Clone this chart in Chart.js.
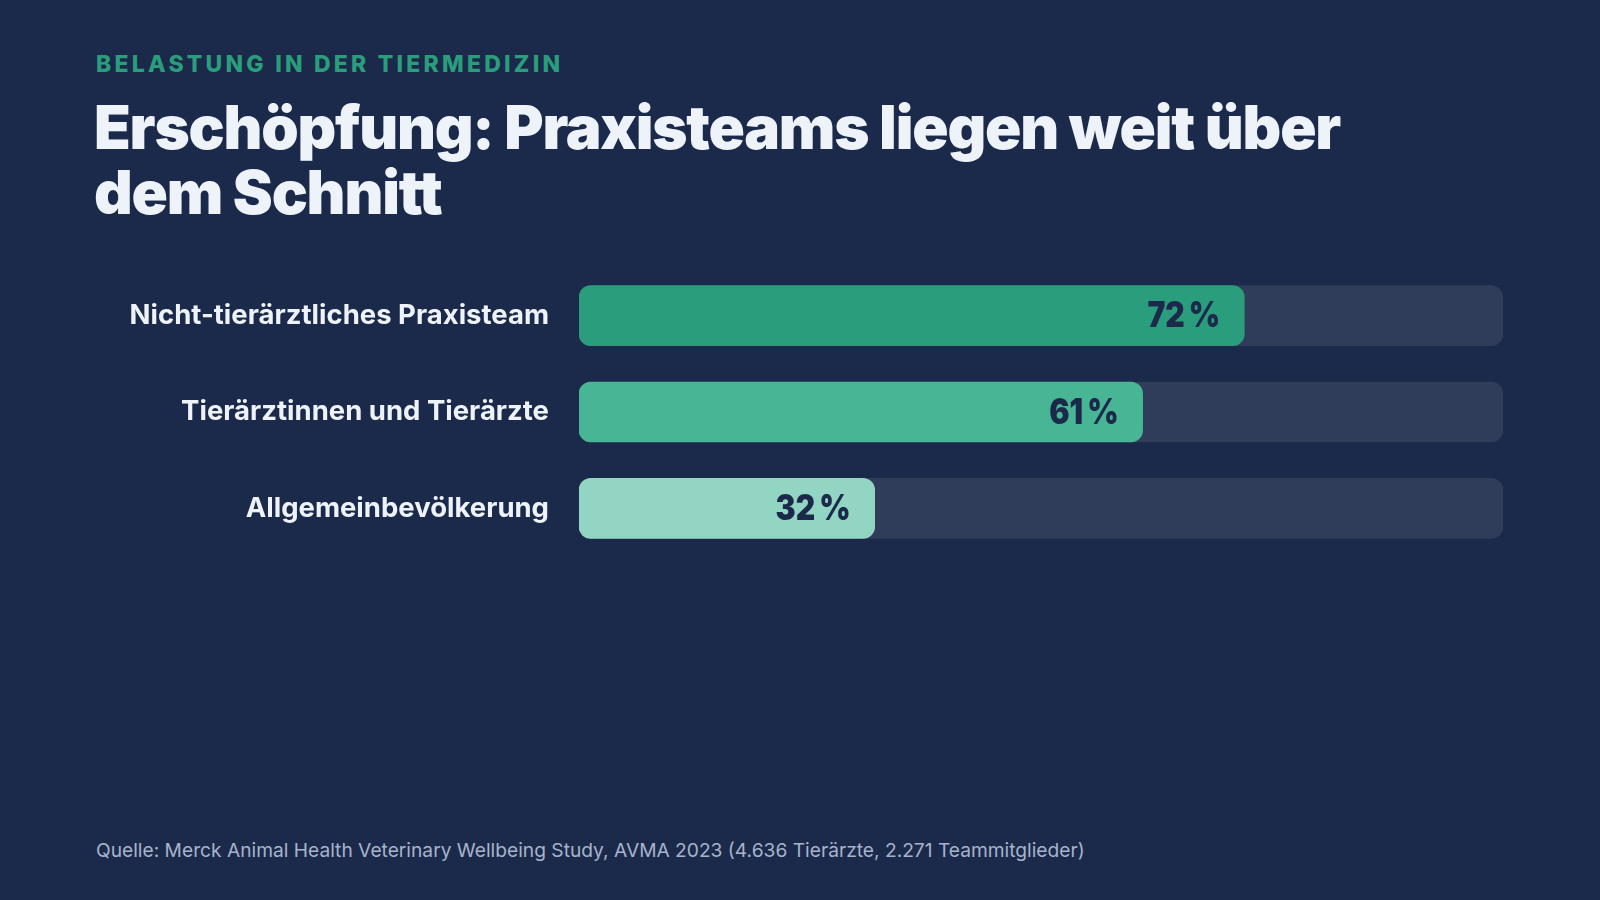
<!DOCTYPE html>
<html lang="de">
<head>
<meta charset="utf-8">
<title>Erschöpfung in der Tiermedizin</title>
<script src="https://cdn.jsdelivr.net/npm/chart.js@4.4.1/dist/chart.umd.min.js"></script>
<style>
  html, body {
    margin: 0;
    padding: 0;
    width: 1600px;
    height: 900px;
    background: #1b2a4a;
    overflow: hidden;
    font-family: Inter, "Noto Sans", sans-serif;
  }
  .kicker {
    position: absolute;
    left: 96px;
    top: 50px;
    margin: 0;
    font-size: 23px;
    font-weight: 800;
    letter-spacing: 0.14em;
    color: #2a9d7c;
    line-height: 28px;
  }
  .title {
    position: absolute;
    left: 94px;
    top: 95px;
    margin: 0;
    font-size: 60px;
    font-weight: 900;
    letter-spacing: -0.02em;
    line-height: 65px;
    color: #eef3fa;
  }
  /* the y-axis adds tick padding + half a label above and below the plot,
     so the canvas is taller than the plot area and shifted up to match */
  #burnout-chart {
    position: absolute;
    left: 0;
    top: 221px;
  }
  .source {
    position: absolute;
    left: 96px;
    top: 838px;
    margin: 0;
    font-size: 19.2px;
    color: #a7b3cc;
  }
</style>
</head>
<body>
<p class="kicker">BELASTUNG IN DER TIERMEDIZIN</p>
<h1 class="title">Erschöpfung: Praxisteams liegen weit über<br>dem Schnitt</h1>
<canvas id="burnout-chart" width="1600" height="382"></canvas>
<p class="source">Quelle: Merck Animal Health Veterinary Wellbeing Study, AVMA 2023 (4.636 Tierärzte, 2.271 Teammitglieder)</p>

<script>
  // Daten
  var groups = ['Nicht-tierärztliches Praxisteam', 'Tierärztinnen und Tierärzte', 'Allgemeinbevölkerung'];
  var exhaustion = [72, 61, 32];
  var trackMax = [100, 100, 100];
  var barColors = ['#2a9d7c', '#48b595', '#93d5c3'];

  var valueLabels = {
    id: 'valueLabels',
    afterDatasetsDraw: function (chart) {
      var ctx = chart.ctx;
      var meta = chart.getDatasetMeta(1);
      meta.data.forEach(function (bar, i) {
        ctx.save();
        ctx.font = '900 35px Inter, sans-serif';
        ctx.letterSpacing = '-1.5px';
        ctx.fillStyle = '#1b2a4a';
        ctx.textAlign = 'right';
        ctx.textBaseline = 'middle';
        ctx.translate(bar.x - 24, bar.y + 1);
        ctx.scale(0.86, 1);
        ctx.fillText(exhaustion[i] + '\u202f%', 0, 0);
        ctx.restore();
      });
    }
  };

  new Chart(document.getElementById('burnout-chart'), {
    type: 'bar',
    data: {
      labels: groups,
      datasets: [
        {
          label: 'Skala',
          data: trackMax,
          backgroundColor: '#2f3c5a',
          borderRadius: 12,
          borderSkipped: false,
          barThickness: 60,
          grouped: false,
          order: 2
        },
        {
          label: 'Erschöpfung',
          data: exhaustion,
          backgroundColor: barColors,
          borderRadius: 12,
          borderSkipped: false,
          barThickness: 60,
          grouped: false,
          order: 1
        }
      ]
    },
    options: {
      indexAxis: 'y',
      responsive: false,
      animation: false,
      layout: { padding: { left: 0, right: 97, top: 0, bottom: 0 } },
      scales: {
        x: {
          display: false,
          min: 0,
          max: 100
        },
        y: {
          grid: { display: false, drawTicks: false },
          border: { display: false },
          ticks: {
            color: '#eef3fa',
            padding: 30,
            font: { family: 'Inter, sans-serif', size: 27.5, weight: '700' }
          },
          afterFit: function (scale) {
            scale.width = 579;
          }
        }
      },
      plugins: {
        legend: { display: false },
        tooltip: { enabled: false }
      }
    },
    plugins: [valueLabels]
  });
</script>
</body>
</html>
